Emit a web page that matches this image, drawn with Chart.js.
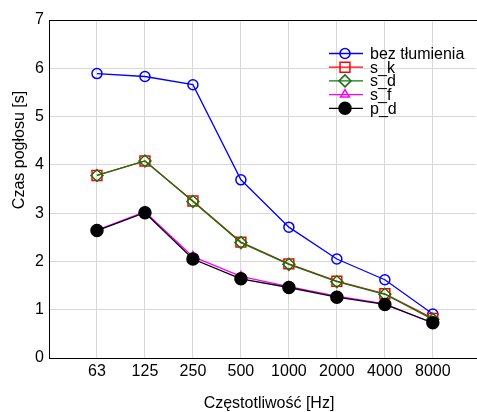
<!DOCTYPE html>
<html>
<head>
<meta charset="utf-8">
<script src="https://cdn.jsdelivr.net/npm/chart.js@4.4.1/dist/chart.umd.min.js"></script>
<style>
  html, body { margin: 0; padding: 0; background: #fff; }
  #wrap { width: 477px; height: 412px; }
</style>
</head>
<body>
<div id="wrap"><canvas id="chart" width="477" height="412"></canvas></div>
<script>
(function(){
    "use strict";

    // frequencies (octave bands)
    var categories = ["63", "125", "250", "500", "1000", "2000", "4000", "8000"];

    // reverberation time [s]
    var bezTlumienia = [5.89, 5.83, 5.66, 3.69, 2.71, 2.05, 1.62, 0.91];
    var sK = [3.78, 4.08, 3.25, 2.40, 1.95, 1.59, 1.33, 0.82];
    var sD = [3.78, 4.08, 3.24, 2.39, 1.94, 1.58, 1.32, 0.80];
    var sF = [2.65, 3.03, 2.10, 1.69, 1.48, 1.28, 1.12, 0.72];
    var pD = [2.64, 3.01, 2.05, 1.64, 1.46, 1.26, 1.11, 0.73];

    var yTicks = [0, 1, 2, 3, 4, 5, 6, 7];

    var FONT = "'Liberation Sans', Arial, sans-serif";

    var toPoints = function(values) {
        var pts = [];
        for(var i = 0; i < values.length; i++) {
            pts.push({x: i + 1, y: values[i]});
        }
        return pts;
    };

    var mkSet = function(label, values, color, style, radius, fill, order) {
        return {
            label: label,
            data: toPoints(values),
            borderColor: color,
            backgroundColor: fill ? color : "rgba(0,0,0,0)",
            pointBackgroundColor: fill ? color : "rgba(0,0,0,0)",
            pointBorderColor: color,
            pointStyle: style,
            pointRadius: radius,
            pointBorderWidth: 1.5,
            borderWidth: 1.3,
            tension: 0,
            clip: false,
            order: order
        };
    };

    var datasets = [
        mkSet("bez tłumienia", bezTlumienia, "#0000ff", "circle", 5, false, 5),
        mkSet("s_k", sK, "#ff0000", "rect", 7, false, 4),
        mkSet("s_d", sD, "#117711", "rectRot", 6, false, 3),
        mkSet("s_f", sF, "#ff00ff", "triangle", 5, false, 2),
        mkSet("p_d", pD, "#000000", "circle", 6, true, 1)
    ];

    var noPad = function(scale) {
        scale.paddingLeft = 0;
        scale.paddingRight = 0;
        scale.paddingTop = 0;
        scale.paddingBottom = 0;
    };

    // legend, titles and top frame drawn by hand (MATLAB style)
    var decor = {
        id: "decor",
        afterDraw: function(chart) {
            var ctx = chart.ctx;
            var area = chart.chartArea;

            ctx.save();
            ctx.strokeStyle = "#000";
            ctx.lineWidth = 1;
            ctx.beginPath();
            ctx.moveTo(area.left, area.top + 0.5);
            ctx.lineTo(area.right + 2, area.top + 0.5);
            ctx.stroke();

            ctx.fillStyle = "#000";
            ctx.font = "16px " + FONT;
            ctx.textAlign = "center";
            ctx.textBaseline = "middle";
            ctx.fillText("Częstotliwość [Hz]", 269, 404);

            ctx.save();
            ctx.translate(20, 150);
            ctx.rotate(-Math.PI / 2);
            ctx.fillText("Czas pogłosu [s]", 0, 0);
            ctx.restore();

            var sets = chart.data.datasets;
            var y0 = 53.5, dy = 13.7;
            ctx.font = "16px " + FONT;
            ctx.textAlign = "left";
            for(var i = 0; i < sets.length; i++) {
                var ds = sets[i];
                var y = y0 + i * dy;
                ctx.strokeStyle = ds.borderColor;
                ctx.lineWidth = ds.borderWidth;
                ctx.beginPath();
                ctx.moveTo(329, y);
                ctx.lineTo(363, y);
                ctx.stroke();

                ctx.fillStyle = ds.pointBackgroundColor;
                ctx.strokeStyle = ds.pointBorderColor;
                ctx.lineWidth = ds.pointBorderWidth;
                Chart.helpers.drawPoint(ctx, {
                    pointStyle: ds.pointStyle,
                    radius: ds.pointRadius,
                    rotation: 0,
                    borderWidth: ds.pointBorderWidth
                }, 345, y);

                ctx.fillStyle = "#000";
                ctx.fillText(ds.label, 370, y + 1);
            }
            ctx.restore();
        }
    };

    new Chart(document.getElementById("chart"), {
        type: "line",
        data: { datasets: datasets },
        options: {
            responsive: false,
            animation: false,
            events: [],
            layout: {
                autoPadding: false,
                padding: { top: 20, right: 1, left: 0, bottom: 0 }
            },
            plugins: {
                legend: { display: false },
                tooltip: { enabled: false }
            },
            scales: {
                x: {
                    type: "linear",
                    min: 0,
                    max: 8.9,
                    afterBuildTicks: function(scale) {
                        var t = [];
                        for(var i = 0; i < categories.length; i++) {
                            t.push({value: i + 1});
                        }
                        scale.ticks = t;
                    },
                    afterFit: function(scale) {
                        scale.height = 54;
                        noPad(scale);
                    },
                    ticks: {
                        autoSkip: false,
                        maxRotation: 0,
                        padding: 4,
                        color: "#000",
                        font: { family: FONT, size: 16 },
                        callback: function(v) { return categories[v - 1]; }
                    },
                    grid: { color: "#d8d8d8", lineWidth: 1, drawTicks: false },
                    border: { color: "#000", width: 1 }
                },
                y: {
                    min: 0,
                    max: 7,
                    afterBuildTicks: function(scale) {
                        scale.ticks = yTicks.map(function(v) { return {value: v}; });
                    },
                    afterFit: function(scale) {
                        scale.width = 49;
                        noPad(scale);
                    },
                    ticks: {
                        padding: 5,
                        color: "#000",
                        font: { family: FONT, size: 16 }
                    },
                    grid: { color: "#d8d8d8", lineWidth: 1, drawTicks: false },
                    border: { color: "#000", width: 1 }
                }
            }
        },
        plugins: [decor]
    });
})();
</script>
</body>
</html>
